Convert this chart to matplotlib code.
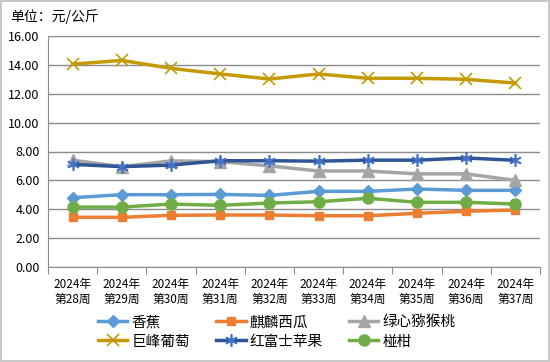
import numpy as np
import matplotlib
matplotlib.use('Agg')
import matplotlib.pyplot as plt

plt.rcParams['font.family'] = ['Noto Sans CJK SC', 'DejaVu Sans']

weeks = ['2024年\n第%d周' % w for w in range(28, 38)]
banana = [4.80, 5.01, 5.01, 5.03, 4.96, 5.24, 5.24, 5.40, 5.31, 5.31]
watermelon = [3.44, 3.44, 3.58, 3.60, 3.60, 3.55, 3.55, 3.72, 3.86, 3.95]
kiwi = [7.40, 6.95, 7.35, 7.30, 7.00, 6.65, 6.65, 6.45, 6.45, 6.00]
grape = [14.05, 14.31, 13.76, 13.37, 13.02, 13.37, 13.07, 13.07, 13.00, 12.74]
apple = [7.11, 6.95, 7.06, 7.36, 7.36, 7.33, 7.40, 7.40, 7.55, 7.39]
citrus = [4.15, 4.15, 4.36, 4.27, 4.43, 4.52, 4.76, 4.48, 4.48, 4.36]

fig = plt.figure(figsize=(5.5, 3.62), dpi=100)
fig.patch.set_edgecolor('#c8c8c8')
fig.patch.set_linewidth(1.5)
ax = fig.add_axes([48 / 550, 95 / 362, 492 / 550, 231 / 362])

x = np.arange(len(weeks))
lw = 2.5
h1, = ax.plot(x, banana, color='#5B9BD5', lw=lw, marker='D', ms=6, label='香蕉')
h2, = ax.plot(x, watermelon, color='#ED7D31', lw=lw, marker='s', ms=6, label='麒麟西瓜')
h3, = ax.plot(x, kiwi, color='#A5A5A5', lw=lw, marker='^', ms=8, label='绿心猕猴桃')
h4, = ax.plot(x, grape, color='#C49A00', lw=lw, marker='x', ms=8, mew=1.2, label='巨峰葡萄')
h5, = ax.plot(x, apple, color='#2F5597', lw=lw, marker=(6, 2, 0), ms=9, mew=1.2,
              mec='#4472C4', label='红富士苹果')
h6, = ax.plot(x, citrus, color='#70AD47', lw=lw, marker='o', ms=8, label='椪柑')

ax.set_xlim(-0.5, 9.5)
ax.set_ylim(0, 16)
ax.set_yticks(np.arange(0, 17, 2))
ax.set_yticklabels(['%.2f' % v for v in np.arange(0, 17, 2)], fontsize=9)
ax.yaxis.grid(True, color='#8c8c8c', lw=1)
ax.set_axisbelow(True)
ax.tick_params(axis='y', length=0, pad=6)

ax.set_xticks(np.arange(-0.5, 10, 1))
ax.set_xticklabels([])
ax.set_xticks(x, minor=True)
ax.set_xticklabels(weeks, minor=True, fontsize=8.5)
ax.tick_params(axis='x', which='major', length=5, color='#8c8c8c', direction='out')
ax.tick_params(axis='x', which='minor', length=0, pad=8)

for s in ['top', 'right']:
    ax.spines[s].set_visible(False)
ax.spines['left'].set_color('#8c8c8c')
ax.spines['bottom'].set_color('#8c8c8c')

fig.text(10 / 550, 1 - 17 / 362, '单位：元/公斤', fontsize=10, va='center')

fig.legend([h1, h4, h2, h5, h3, h6],
           ['香蕉', '巨峰葡萄', '麒麟西瓜', '红富士苹果', '绿心猕猴桃', '椪柑'],
           ncol=3, loc='center', bbox_to_anchor=(277 / 550, 1 - 332 / 362),
           frameon=False, fontsize=10.5, handlelength=2.0, columnspacing=1.8,
           labelspacing=0.35, handletextpad=0.3, borderpad=0.2)

fig.savefig('out.png', dpi=100, edgecolor=fig.get_edgecolor())
